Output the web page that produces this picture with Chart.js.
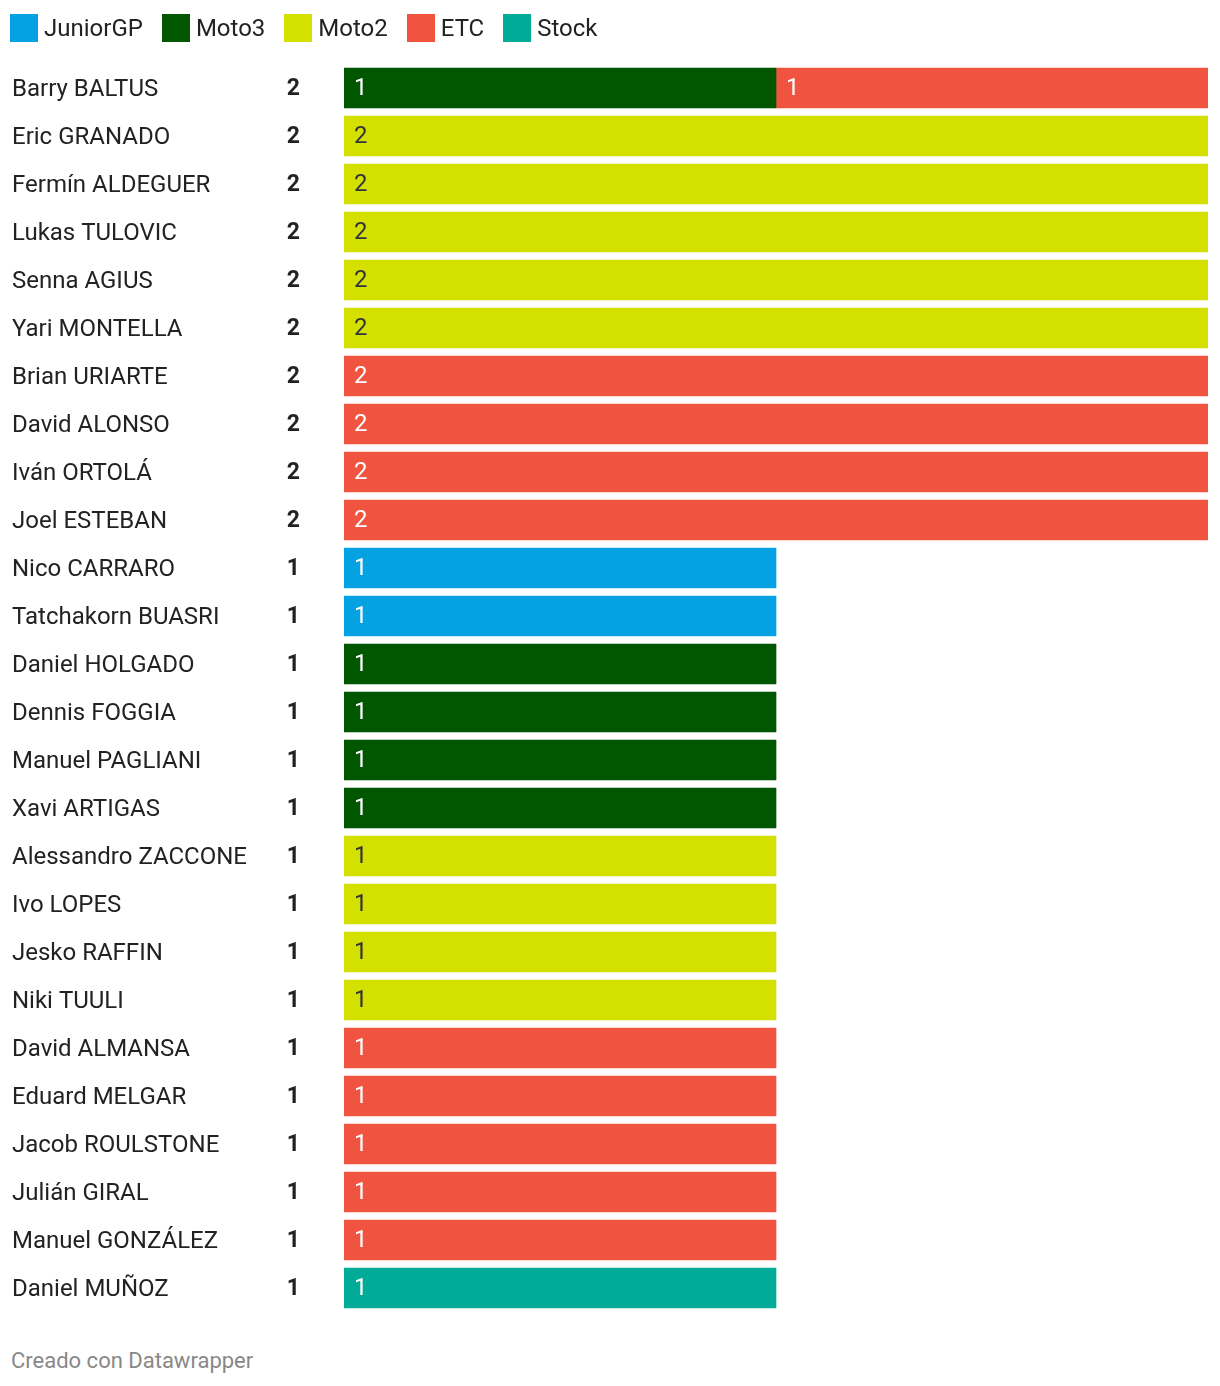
<!DOCTYPE html>
<html>
<head>
<meta charset="utf-8">
<script src="https://cdn.jsdelivr.net/npm/chart.js@4"></script>
<style>
  body { margin: 0; background: #fff; font-family: Roboto, sans-serif; }
  #wrap { position: relative; width: 1220px; height: 1386px; }
  #legend { position: absolute; left: 10px; top: 14px; display: flex; font-size: 24px; color: #222; }
  #legend .item { display: flex; align-items: center; margin-right: 19px; height: 28px; }
  #legend .box { width: 28px; height: 28px; margin-right: 6px; }
  #myChart { position: absolute; left: 0; top: 0; }
  #footer { position: absolute; left: 11px; top: 1348px; font-size: 22px; color: #888; }
</style>
</head>
<body>
<div id="wrap">
  <canvas id="myChart" width="1220" height="1330"></canvas>
  <div id="legend"></div>
  <div id="footer">Creado con Datawrapper</div>
</div>
<script>
const riders = [
  'Barry BALTUS', 'Eric GRANADO', 'Fermín ALDEGUER', 'Lukas TULOVIC', 'Senna AGIUS',
  'Yari MONTELLA', 'Brian URIARTE', 'David ALONSO', 'Iván ORTOLÁ', 'Joel ESTEBAN',
  'Nico CARRARO', 'Tatchakorn BUASRI', 'Daniel HOLGADO', 'Dennis FOGGIA', 'Manuel PAGLIANI',
  'Xavi ARTIGAS', 'Alessandro ZACCONE', 'Ivo LOPES', 'Jesko RAFFIN', 'Niki TUULI',
  'David ALMANSA', 'Eduard MELGAR', 'Jacob ROULSTONE', 'Julián GIRAL', 'Manuel GONZÁLEZ',
  'Daniel MUÑOZ'
];

const juniorGP = [0,0,0,0,0, 0,0,0,0,0, 1,1,0,0,0, 0,0,0,0,0, 0,0,0,0,0, 0];
const moto3    = [1,0,0,0,0, 0,0,0,0,0, 0,0,1,1,1, 1,0,0,0,0, 0,0,0,0,0, 0];
const moto2    = [0,2,2,2,2, 2,0,0,0,0, 0,0,0,0,0, 0,1,1,1,1, 0,0,0,0,0, 0];
const etc      = [1,0,0,0,0, 0,2,2,2,2, 0,0,0,0,0, 0,0,0,0,0, 1,1,1,1,1, 0];
const stock    = [0,0,0,0,0, 0,0,0,0,0, 0,0,0,0,0, 0,0,0,0,0, 0,0,0,0,0, 1];

const series = [
  { label: 'JuniorGP', data: juniorGP, color: '#04a2e2', text: '#fff' },
  { label: 'Moto3', data: moto3, color: '#005700', text: '#fff' },
  { label: 'Moto2', data: moto2, color: '#d3e000', text: '#333' },
  { label: 'ETC', data: etc, color: '#f05440', text: '#fff' },
  { label: 'Stock', data: stock, color: '#00ab97', text: '#fff' }
];

const totals = riders.map(function(r, i) {
  return series.reduce(function(s, d) { return s + d.data[i]; }, 0);
});

// legend
const legend = document.getElementById('legend');
series.forEach(function(s) {
  const item = document.createElement('div');
  item.className = 'item';
  item.innerHTML = '<span class="box" style="background:' + s.color + '"></span>' + s.label;
  legend.appendChild(item);
});

const labelsPlugin = {
  id: 'labels',
  afterDatasetsDraw: function(chart) {
    const ctx = chart.ctx;
    ctx.save();
    ctx.textBaseline = 'middle';
    // values inside bars
    ctx.font = '24px Roboto';
    ctx.textAlign = 'left';
    chart.data.datasets.forEach(function(ds, di) {
      const meta = chart.getDatasetMeta(di);
      meta.data.forEach(function(bar, i) {
        const v = ds.data[i];
        if (!v) return;
        ctx.fillStyle = series[di].text;
        ctx.fillText(String(v), bar.base + 10, bar.y + 1);
      });
    });
    // totals
    const yScale = chart.scales.y;
    ctx.font = 'bold 23px Roboto';
    ctx.textAlign = 'right';
    ctx.fillStyle = '#222';
    totals.forEach(function(t, i) {
      ctx.fillText(String(t), 300, yScale.getPixelForValue(i) + 1);
    });
    ctx.restore();
  }
};

const ctx = document.getElementById('myChart');
new Chart(ctx, {
  type: 'bar',
  data: {
    labels: riders,
    datasets: series.map(function(s) {
      return {
        label: s.label,
        data: s.data.map(function(v) { return v === 0 ? null : v; }),
        backgroundColor: s.color,
        borderWidth: 0,
        barThickness: 40
      };
    })
  },
  options: {
    indexAxis: 'y',
    responsive: false,
    animation: false,
    devicePixelRatio: 1,
    layout: { padding: { left: 12, right: 12, top: 64, bottom: 18 } },
    plugins: {
      legend: { display: false },
      tooltip: { enabled: false }
    },
    scales: {
      x: {
        stacked: true,
        min: 0,
        max: 2,
        display: false
      },
      y: {
        stacked: true,
        grid: { display: false },
        border: { display: false },
        afterFit: function(scale) { scale.width = 332; },
        ticks: {
          autoSkip: false,
          crossAlign: 'far',
          labelOffset: 2,
          color: '#222',
          font: { family: 'Roboto', size: 24 }
        }
      }
    }
  },
  plugins: [labelsPlugin]
});
</script>
</body>
</html>
